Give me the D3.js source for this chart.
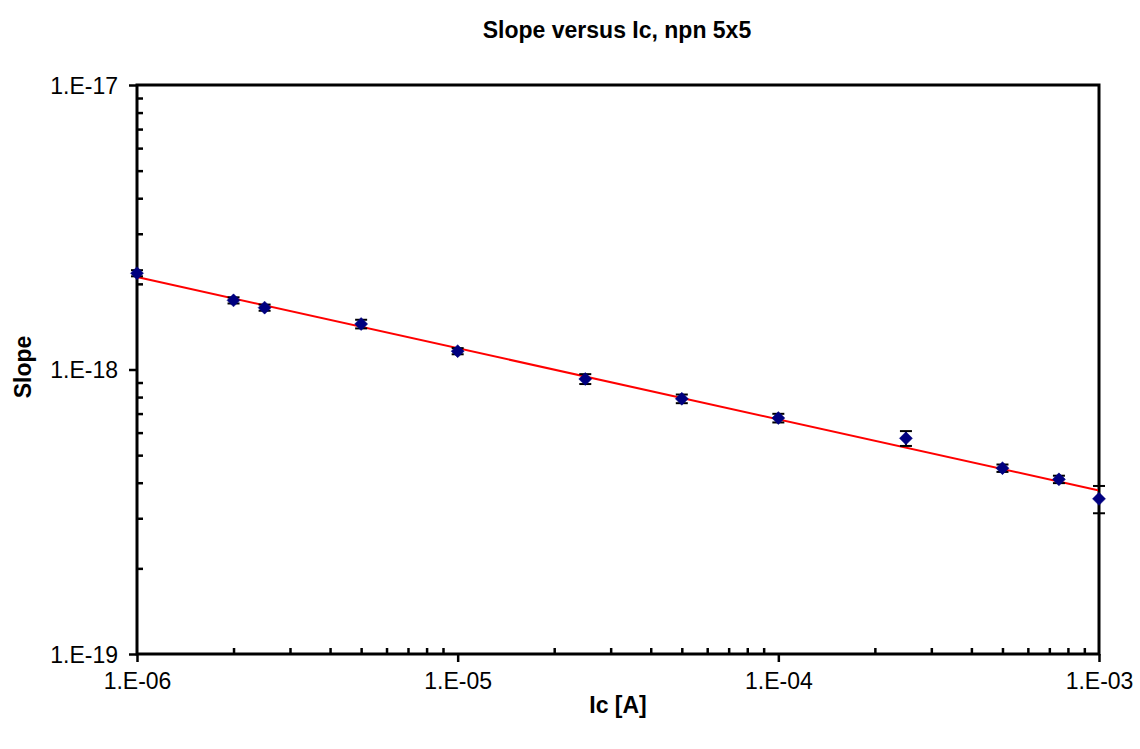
<!DOCTYPE html>
<html>
<head>
<meta charset="utf-8">
<script src="https://cdn.jsdelivr.net/npm/d3@7"></script>
<style>
  html, body { margin: 0; padding: 0; background: #fff; }
  svg { display: block; font-family: "Liberation Sans", Arial, sans-serif; }
</style>
</head>
<body>
<svg id="chart" width="1140" height="749"></svg>
<script>
// ---- data ----
const chartTitle = "Slope versus Ic, npn 5x5";
const xTitle = "Ic [A]";
const yTitle = "Slope";
const icValues = [1e-6, 2e-6, 2.5e-6, 5e-6, 1e-5, 2.5e-5, 5e-5, 1e-4, 2.5e-4, 5e-4, 7.5e-4, 1e-3];
const slopeValues = [2.18e-18, 1.75e-18, 1.65e-18, 1.445e-18, 1.16e-18, 9.26e-19, 7.89e-19, 6.75e-19, 5.73e-19, 4.50e-19, 4.11e-19, 3.51e-19];
const errorPercent = [2.5, 2.5, 2.5, 3.5, 2.5, 4, 3.5, 3.5, 6, 3, 3, 11];
const trendCoef = 6.68e-20;   // power-law trendline y = a * x^b
const trendExp = -0.25;
const xTickValues = [1e-6, 1e-5, 1e-4, 1e-3];
const xTickLabels = ["1.E-06", "1.E-05", "1.E-04", "1.E-03"];
const yTickValues = [1e-19, 1e-18, 1e-17];
const yTickLabels = ["1.E-19", "1.E-18", "1.E-17"];

// ---- layout ----
const svg = d3.select("#chart");
const L = 137, R = 1099, T = 85, B = 654;
const x = d3.scaleLog().domain([1e-6, 1e-3]).range([L, R]);
const y = d3.scaleLog().domain([1e-19, 1e-17]).range([B, T]);

// minor ticks (inside)
const xMinor = [];
for (let d = -6; d < -3; d++) for (let m = 2; m <= 9; m++) xMinor.push(m * Math.pow(10, d));
const yMinor = [];
for (let d = -19; d < -17; d++) for (let m = 2; m <= 9; m++) yMinor.push(m * Math.pow(10, d));

const gAxes = svg.append("g");
const xMajorAxis = d3.axisBottom(x).tickValues(xTickValues).tickSize(8).tickFormat((d, i) => xTickLabels[i]).tickPadding(10);
const xMinorAxis = d3.axisTop(x).tickValues(xMinor).tickSize(6).tickFormat("");
const yMajorAxis = d3.axisLeft(y).tickValues(yTickValues).tickSize(8).tickFormat((d, i) => yTickLabels[i]).tickPadding(11);
const yMinorAxis = d3.axisRight(y).tickValues(yMinor).tickSize(6).tickFormat("");

function styleAxis(g) {
  g.select(".domain").remove();
  g.selectAll(".tick line").attr("stroke", "#000").attr("stroke-width", 2.5);
  g.selectAll(".tick text").attr("fill", "#000").style("font-size", "23px").style("font-family", '"Liberation Sans", Arial, sans-serif');
}
gAxes.append("g").attr("transform", `translate(0,${B})`).call(xMajorAxis).call(styleAxis);
gAxes.append("g").attr("transform", `translate(0,${B})`).call(xMinorAxis).call(styleAxis);
gAxes.append("g").attr("transform", `translate(${L},0)`).call(yMajorAxis).call(styleAxis);
gAxes.append("g").attr("transform", `translate(${L},0)`).call(yMinorAxis).call(styleAxis);
gAxes.selectAll("text").attr("dy", null);
gAxes.selectAll("g.tick text").each(function () {
  const t = d3.select(this);
  if (t.attr("y") && +t.attr("y") > 0) t.attr("dominant-baseline", "hanging");
  else t.attr("dominant-baseline", "central");
});

// plot frame
svg.append("rect").attr("x", L).attr("y", T).attr("width", R - L).attr("height", B - T)
  .attr("fill", "none").attr("stroke", "#000").attr("stroke-width", 3);

// trendline
const trendX = [1e-6, 1e-3];
svg.append("line")
  .attr("x1", x(trendX[0])).attr("y1", y(trendCoef * Math.pow(trendX[0], trendExp)))
  .attr("x2", x(trendX[1])).attr("y2", y(trendCoef * Math.pow(trendX[1], trendExp)))
  .attr("stroke", "#ff0000").attr("stroke-width", 2);

// error bars
const pts = icValues.map((v, i) => ({ x: v, y: slopeValues[i], e: errorPercent[i] / 100 }));
const gErr = svg.append("g").attr("stroke", "#000").attr("stroke-width", 2);
pts.forEach(p => {
  const cx = x(p.x), yHi = y(p.y * (1 + p.e)), yLo = y(p.y * (1 - p.e));
  gErr.append("line").attr("x1", cx).attr("x2", cx).attr("y1", yHi).attr("y2", yLo);
  gErr.append("line").attr("x1", cx - 6).attr("x2", cx + 6).attr("y1", yHi).attr("y2", yHi);
  gErr.append("line").attr("x1", cx - 6).attr("x2", cx + 6).attr("y1", yLo).attr("y2", yLo);
});

// diamond markers
svg.append("g").selectAll("path").data(pts).join("path")
  .attr("d", d => { const cx = x(d.x), cy = y(d.y), s = 6.5; return `M${cx},${cy - s}L${cx + s},${cy}L${cx},${cy + s}L${cx - s},${cy}Z`; })
  .attr("fill", "#000080").attr("stroke", "#000080").attr("stroke-width", 0.5);

// titles
svg.append("text").attr("x", 617).attr("y", 38).attr("text-anchor", "middle")
  .style("font-size", "23px").style("font-weight", "bold").text(chartTitle);
svg.append("text").attr("x", 618).attr("y", 713).attr("text-anchor", "middle")
  .style("font-size", "23px").style("font-weight", "bold").text(xTitle);
svg.append("text").attr("transform", "translate(31,367) rotate(-90)").attr("text-anchor", "middle")
  .style("font-size", "23px").style("font-weight", "bold").text(yTitle);
</script>
</body>
</html>
